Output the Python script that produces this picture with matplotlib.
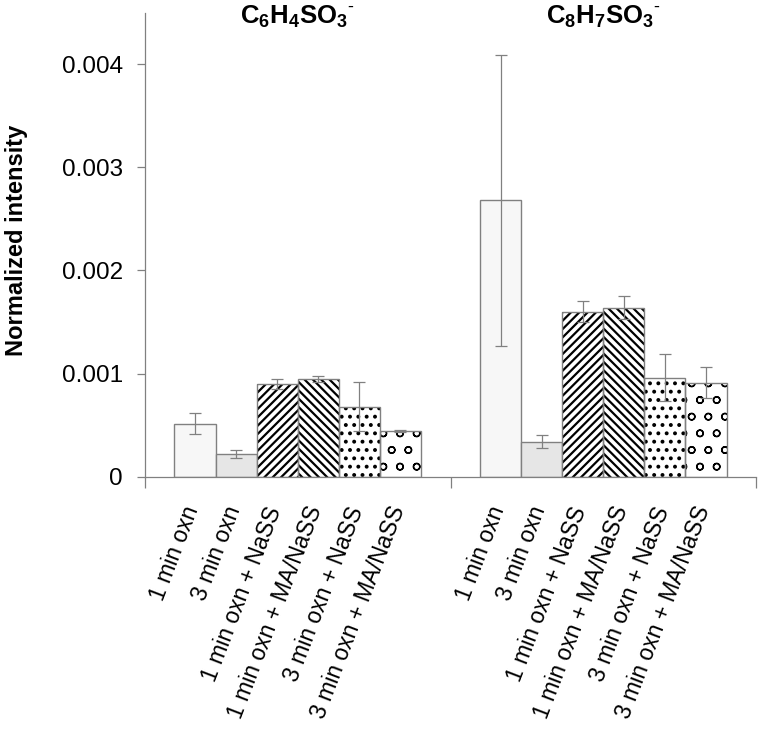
import matplotlib
matplotlib.use("Agg")
import matplotlib.pyplot as plt
import matplotlib.transforms as mtransforms
import numpy as np

plt.rcParams['font.family'] = ['Liberation Sans', 'DejaVu Sans']
plt.rcParams['mathtext.fontset'] = 'custom'
plt.rcParams['mathtext.rm'] = 'Liberation Sans'
plt.rcParams['mathtext.bf'] = 'Liberation Sans:bold'

groups = [r'$\mathbf{C_6H_4SO_3}{}^{\text{-}}$', r'$\mathbf{C_8H_7SO_3}{}^{\text{-}}$']
series = ['1 min oxn', '3 min oxn', '1 min oxn + NaSS', '1 min oxn + MA/NaSS',
          '3 min oxn + NaSS', '3 min oxn + MA/NaSS']
# values[series][group]
values_1min = [0.000515, 0.00268]
values_3min = [0.000223, 0.00034]
values_1min_nass = [0.00090, 0.00160]
values_1min_manass = [0.00095, 0.00164]
values_3min_nass = [0.00068, 0.00096]
values_3min_manass = [0.00044, 0.00091]
err_1min = [0.00010, 0.00141]
err_3min = [0.00004, 0.00006]
err_1min_nass = [0.00005, 0.00010]
err_1min_manass = [0.00003, 0.00011]
err_3min_nass = [0.00024, 0.00023]
err_3min_manass = [0.00001, 0.00015]

values = [values_1min, values_3min, values_1min_nass, values_1min_manass,
          values_3min_nass, values_3min_manass]
errors = [err_1min, err_3min, err_1min_nass, err_1min_manass,
          err_3min_nass, err_3min_manass]

faces = ['#f7f7f7', '#e6e6e6', 'white', 'white', 'white', 'white']
hatches = [None, None, '////', '\\\\\\\\', '..', 'o']
hatch_lw = [1.0, 1.0, 1.6, 1.6, 1.6, 1.0]

fig = plt.figure(figsize=(7.62, 7.33), dpi=100)
ax = fig.add_axes([145/762, 1 - 476.7/733, (756-145)/762, (476.7-12.7)/733])

w = 0.1345
gx = np.arange(len(groups))
gray = '#808080'
centers = []
labels = []
for g in gx:
    for j, s in enumerate(series):
        x = g + (j - 2.5) * w
        v = values[j][g]
        e = errors[j][g]
        if hatches[j]:
            plt.rcParams['hatch.linewidth'] = hatch_lw[j]
            ax.bar(x, v, width=w, color='white', edgecolor='black', linewidth=0,
                   hatch=hatches[j], zorder=2)
            ax.bar(x, v, width=w, fill=False, edgecolor=gray, linewidth=1.0, zorder=3)
        else:
            ax.bar(x, v, width=w, color=faces[j], edgecolor=gray, linewidth=1.0, zorder=2)
        ax.errorbar(x, v, yerr=e, fmt='none', ecolor=gray, elinewidth=0.9,
                    capsize=4.5, capthick=0.9, zorder=4)
        centers.append(x)
        labels.append(s)

ax.set_xlim(-0.5, len(groups) - 0.5)
ax.set_ylim(0, 0.0045)
ax.set_yticks([0, 0.001, 0.002, 0.003, 0.004])
ax.set_yticklabels(['0', '0.001', '0.002', '0.003', '0.004'])
ax.tick_params(axis='y', direction='out', length=6, width=0.9, color=gray,
               labelsize=17.5, pad=10)

ax.set_xticks(np.arange(len(groups) + 1) - 0.5)
ax.set_xticklabels([])
ax.tick_params(axis='x', which='major', direction='out', length=8, width=0.9, color=gray)
ax.set_xticks(centers, minor=True)
ax.set_xticklabels(labels, minor=True, rotation=69, ha='right', va='center',
                   rotation_mode='anchor', fontsize=16.5)
ax.tick_params(axis='x', which='minor', length=0, pad=22)
offset = mtransforms.ScaledTranslation(-2/100, 0, fig.dpi_scale_trans)
for lab in ax.get_xticklabels(minor=True):
    lab.set_transform(lab.get_transform() + offset)

for sp in ['top', 'right']:
    ax.spines[sp].set_visible(False)
for sp in ['left', 'bottom']:
    ax.spines[sp].set_color(gray)
    ax.spines[sp].set_linewidth(0.9)

trans = mtransforms.blended_transform_factory(ax.transData, fig.transFigure)
for g in gx:
    ax.text(g, 1 - 24/733, groups[g], transform=trans,
            ha='center', va='baseline', fontsize=18.5)

fig.text(17/762, 1 - 240/733, 'Normalized intensity', rotation=90,
         ha='center', va='center', fontsize=17, fontweight='bold')

fig.savefig('out.png', dpi=100)
